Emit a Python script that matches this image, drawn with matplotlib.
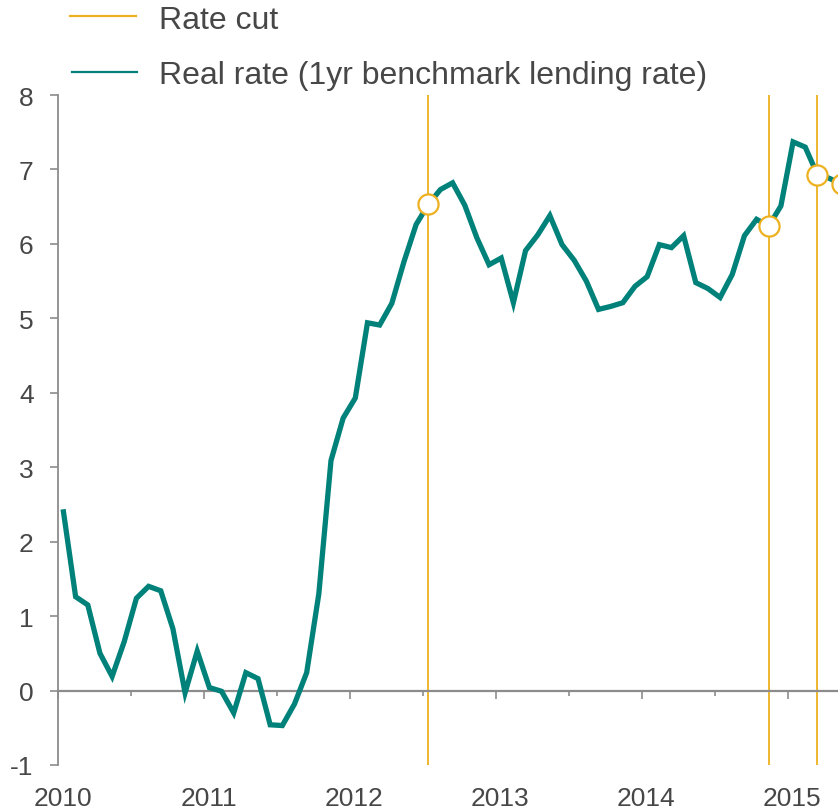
import numpy as np
import matplotlib
matplotlib.use("Agg")
import matplotlib.pyplot as plt
from matplotlib.lines import Line2D
import matplotlib.transforms as mtransforms

plt.rcParams['font.family'] = ['Liberation Sans', 'DejaVu Sans']

# Monthly real rate, Jan 2010 - May 2015
real_rate = [2.40, 1.26, 1.15, 0.50, 0.19, 0.66, 1.24, 1.40, 1.34, 0.83, -0.03, 0.53,
             0.04, -0.01, -0.30, 0.24, 0.16, -0.46, -0.47, -0.18, 0.24, 1.30, 3.09, 3.66,
             3.93, 4.94, 4.91, 5.20, 5.76, 6.26, 6.53, 6.73, 6.82, 6.52, 6.08, 5.72,
             5.81, 5.21, 5.91, 6.12, 6.38, 5.99, 5.78, 5.50, 5.12, 5.16, 5.21, 5.43,
             5.56, 5.99, 5.95, 6.11, 5.48, 5.40, 5.28, 5.59, 6.11, 6.33, 6.24, 6.51,
             7.37, 7.30, 6.93, 6.88, 6.80]
start_year = 2010
# months (index from Jan 2010) with a rate cut
rate_cut_months = [30, 58, 62, 64]
years = [2010, 2011, 2012, 2013, 2014, 2015]
yticks = list(range(-1, 9))

gold = '#EDB120'
teal = '#00827A'
grey = '#8C8C8C'
txt = '#474747'

fig = plt.figure(figsize=(8.38, 8.12), dpi=100)
W, H = 838, 812
px_per_month = 12.16
x0_px = 58
xmax = 66
ax = fig.add_axes([x0_px / W, 1 - 766 / H, px_per_month * xmax / W, (766 - 96) / H])

x = np.arange(len(real_rate)) + 0.45
cut_x = x[rate_cut_months]
cut_y = np.array(real_rate)[rate_cut_months]

for cx in cut_x:
    ax.axvline(cx, color=gold, lw=1.3, zorder=2)
ax.plot(x, real_rate, color=teal, lw=3.8, solid_joinstyle='miter', zorder=3)
ax.plot(cut_x, cut_y, 'o', ms=14.5, mfc='white', mec=gold, mew=1.6, zorder=4, clip_on=False)

ax.set_xlim(0, xmax)
ax.set_ylim(-1, 8)

for s in ['top', 'right']:
    ax.spines[s].set_visible(False)
ax.spines['bottom'].set_position(('data', 0))
for s in ['left', 'bottom']:
    ax.spines[s].set_color(grey)
    ax.spines[s].set_linewidth(1.3)
ax.spines['bottom'].set_linewidth(1.6)

ax.set_yticks(yticks)
ax.set_yticklabels([str(v) for v in yticks])
ax.tick_params(axis='y', colors=grey, labelcolor=txt, labelsize=19, length=5.5, width=1.2, pad=12)

ax.set_xticks([(y - start_year) * 12 for y in years])
ax.set_xticks([(y - start_year) * 12 + 6 for y in years], minor=True)
ax.tick_params(axis='x', which='major', colors=grey, length=5.5, width=1.2, labelbottom=False)
ax.tick_params(axis='x', which='minor', colors=grey, length=3.8, width=1.2, labelbottom=False)

trans = mtransforms.blended_transform_factory(ax.transData, ax.transAxes)
for y in years:
    ax.text((y - start_year) * 12 + 0.38, -0.05, str(y), transform=trans,
            ha='center', va='center', fontsize=19, color=txt, clip_on=False)

# legend
fig.add_artist(Line2D([70 / W, 136 / W], [1 - 17 / H] * 2, color=gold, lw=1.6))
fig.add_artist(Line2D([72 / W, 137 / W], [1 - 73 / H] * 2, color=teal, lw=1.6))
fig.text(159 / W, 1 - 21 / H, 'Rate cut', fontsize=23, color=txt, va='center', ha='left')
fig.text(159 / W, 1 - 76 / H, 'Real rate (1yr benchmark lending rate)', fontsize=23,
         color=txt, va='center', ha='left')

fig.savefig('out.png', dpi=100)
